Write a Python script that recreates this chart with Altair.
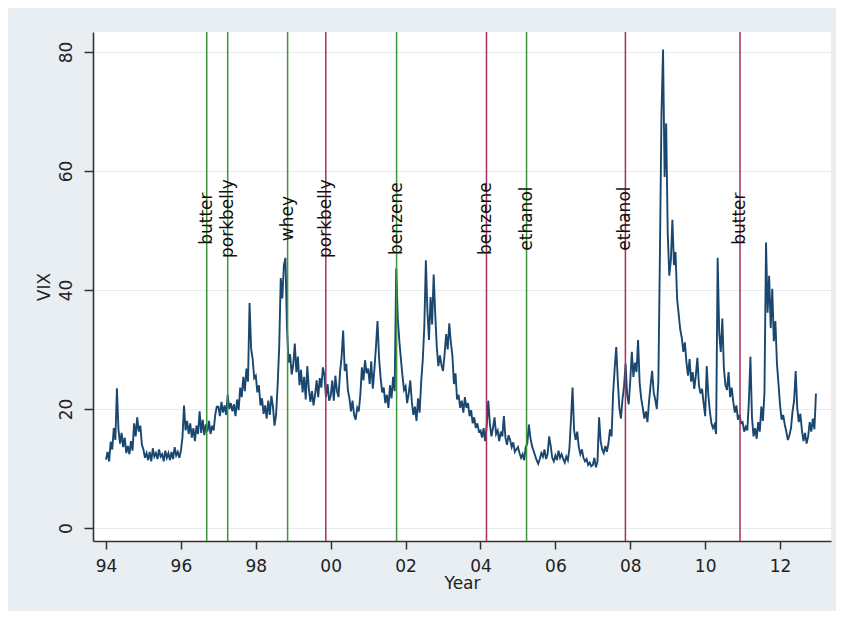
import altair as alt
import pandas as pd

# ---- VIX, read semi-monthly from the picture (24 values per year) ----
years = list(range(1994, 2013))
vix_1994 = [11.5, 12.8, 11.2, 14.5, 13.2, 16.8, 14.8, 23.5, 16.5, 14.2, 16.0, 13.6, 15.2, 12.6, 13.8, 12.4, 14.6, 13.0, 17.6, 15.4, 18.6, 16.2, 17.2, 14.0]
vix_1995 = [13.2, 11.8, 12.6, 11.4, 12.8, 11.2, 13.4, 12.0, 12.6, 11.6, 13.2, 12.0, 12.4, 11.2, 13.0, 11.8, 12.6, 11.4, 12.8, 11.6, 13.6, 12.2, 12.8, 11.8]
vix_1996 = [13.0, 15.2, 20.6, 16.4, 18.0, 15.8, 17.6, 15.2, 16.8, 14.6, 17.2, 15.8, 19.6, 16.0, 18.2, 15.6, 17.4, 16.2, 18.0, 15.8, 17.2, 16.4, 19.0, 20.4]
vix_1997 = [20.4, 18.8, 21.2, 19.4, 20.6, 19.0, 22.4, 20.0, 21.0, 19.6, 20.8, 18.8, 21.6, 19.8, 23.6, 22.0, 25.4, 23.0, 26.8, 24.6, 37.8, 30.2, 28.4, 25.2]
vix_1998 = [25.6, 22.8, 24.0, 20.6, 21.8, 19.2, 20.6, 18.4, 21.4, 19.0, 22.2, 20.4, 17.2, 19.0, 24.0, 30.4, 42.0, 38.6, 44.2, 45.4, 33.6, 27.8, 29.2, 25.8]
vix_1999 = [27.4, 31.0, 26.2, 28.8, 24.0, 26.6, 22.8, 25.4, 21.6, 27.2, 23.4, 21.2, 23.0, 20.6, 22.4, 24.8, 22.0, 25.2, 23.6, 27.0, 25.6, 22.0, 24.2, 21.4]
vix_2000 = [22.2, 24.8, 21.4, 25.6, 23.0, 22.0, 26.2, 28.8, 33.2, 26.4, 27.6, 23.2, 21.8, 19.6, 21.4, 19.0, 18.2, 20.2, 19.6, 22.4, 27.0, 24.8, 28.2, 26.0]
vix_2001 = [26.8, 24.2, 28.0, 23.4, 26.6, 30.4, 34.8, 28.6, 25.2, 22.8, 23.6, 21.0, 22.4, 20.2, 24.0, 21.8, 25.4, 23.0, 43.6, 35.2, 31.4, 28.4, 25.6, 23.2]
vix_2002 = [23.8, 21.0, 22.6, 24.8, 21.2, 19.0, 20.4, 18.0, 21.8, 19.4, 24.6, 28.2, 33.8, 45.0, 36.4, 31.6, 38.8, 34.2, 42.6, 36.0, 30.4, 27.2, 29.0, 27.4]
vix_2003 = [26.4, 29.2, 32.6, 30.0, 34.4, 31.2, 29.0, 24.2, 26.0, 21.6, 22.4, 20.2, 21.4, 19.4, 22.0, 20.2, 21.0, 18.8, 19.8, 17.6, 18.6, 16.8, 17.6, 16.2]
vix_2004 = [16.4, 15.2, 16.8, 14.6, 17.2, 21.4, 17.6, 15.4, 16.8, 18.6, 15.8, 16.4, 14.6, 16.2, 15.4, 18.8, 15.2, 14.0, 15.6, 14.8, 13.6, 14.4, 12.8, 13.2]
vix_2005 = [13.6, 12.6, 11.8, 12.4, 11.4, 13.6, 14.2, 17.4, 15.2, 13.8, 13.0, 12.2, 11.4, 10.8, 11.6, 12.6, 12.0, 13.2, 11.6, 12.4, 15.4, 13.8, 11.8, 11.2]
vix_2006 = [12.2, 11.4, 13.0, 11.8, 12.4, 11.6, 11.0, 12.0, 11.4, 13.4, 18.2, 23.6, 16.4, 14.8, 16.2, 13.6, 12.4, 13.2, 11.8, 11.2, 11.6, 10.6, 11.0, 10.4]
vix_2007 = [10.6, 11.8, 10.2, 11.2, 18.6, 14.6, 13.2, 12.6, 13.8, 12.8, 14.2, 16.6, 15.4, 22.6, 26.8, 30.4, 24.8, 20.2, 18.4, 21.6, 23.8, 27.6, 22.4, 20.8]
vix_2008 = [24.8, 29.6, 25.4, 27.8, 26.2, 31.6, 24.4, 21.8, 20.2, 18.4, 19.6, 17.8, 21.2, 24.0, 26.4, 22.8, 21.6, 20.0, 24.6, 46.0, 69.6, 80.4, 59.0, 68.0]
vix_2009 = [49.6, 42.4, 45.0, 51.8, 44.2, 46.4, 38.6, 36.0, 33.4, 32.0, 29.6, 31.2, 27.8, 25.6, 28.4, 24.6, 26.2, 23.4, 25.6, 28.6, 24.0, 22.6, 23.4, 21.0]
vix_2010 = [18.8, 27.2, 22.4, 19.6, 17.6, 16.8, 17.4, 15.8, 45.4, 32.8, 29.6, 35.2, 26.8, 24.0, 23.2, 26.2, 22.0, 23.6, 21.2, 19.4, 20.6, 18.2, 19.0, 17.6]
vix_2011 = [17.8, 16.2, 17.0, 16.4, 21.2, 28.8, 18.6, 15.4, 16.8, 15.0, 17.8, 16.2, 20.4, 18.0, 22.8, 48.0, 36.2, 42.4, 33.6, 40.2, 31.4, 34.8, 27.6, 24.2]
vix_2012 = [20.6, 18.2, 19.0, 17.4, 16.2, 14.8, 15.6, 16.8, 19.6, 21.4, 26.4, 20.2, 17.8, 19.2, 16.4, 14.6, 16.0, 14.2, 15.4, 17.8, 16.2, 18.4, 16.6, 22.6]
vix_by_year = [vix_1994, vix_1995, vix_1996, vix_1997, vix_1998, vix_1999, vix_2000,
               vix_2001, vix_2002, vix_2003, vix_2004, vix_2005, vix_2006, vix_2007,
               vix_2008, vix_2009, vix_2010, vix_2011, vix_2012]

# ---- event lines ----
event_names = ["butter", "porkbelly", "whey", "porkbelly", "benzene", "benzene", "ethanol", "ethanol", "butter"]
event_dates = [1996.69, 1997.25, 1998.85, 1999.87, 2001.76, 2004.16, 2005.23, 2007.87, 2010.93]
event_kinds = ["g", "g", "g", "r", "g", "r", "g", "r", "r"]

x_ticks = [1994, 1996, 1998, 2000, 2002, 2004, 2006, 2008, 2010, 2012]
y_ticks = [0, 20, 40, 60, 80]

dates, values = [], []
for yr, vals in zip(years, vix_by_year):
    for i, v in enumerate(vals):
        dates.append(yr + i / 24)
        values.append(v)
vix_df = pd.DataFrame({"date": dates, "vix": values})
ev_df = pd.DataFrame({"date": event_dates, "name": event_names, "kind": event_kinds})

FONT = "DejaVu Sans"
xscale = alt.Scale(domain=[1993.653, 2013.36], nice=False, zero=False)
yscale = alt.Scale(domain=[-2.18, 83.36], nice=False, zero=False)
cscale = alt.Scale(domain=["g", "r"], range=["#3C963C", "#A8305A"])

x_axis = alt.Axis(values=x_ticks, labelExpr="substring(format(datum.value, 'd'), 2)",
                  grid=False, tickSize=8, tickWidth=1.5, tickColor="#333333",
                  domainColor="#333333", domainWidth=1.6,
                  labelFont=FONT, labelFontSize=17, labelColor="#222222", labelPadding=9,
                  title="Year", titleFont=FONT, titleFontSize=17, titleFontWeight="normal",
                  titleColor="#222222", titlePadding=1)
y_axis = alt.Axis(values=y_ticks, grid=True, gridColor="#E6EDF1", gridWidth=1,
                  tickSize=9, tickWidth=1.5, tickColor="#333333",
                  domainColor="#333333", domainWidth=1.6,
                  labelAngle=270, labelAlign="center", labelBaseline="bottom",
                  labelFont=FONT, labelFontSize=17, labelColor="#222222", labelPadding=9,
                  title="VIX", titleFont=FONT, titleFontSize=17, titleFontWeight="normal",
                  titleColor="#222222", titlePadding=4)

line = alt.Chart(vix_df).mark_line(color="#1A476F", strokeWidth=1.9, clip=True).encode(
    x=alt.X("date:Q", scale=xscale, axis=x_axis),
    y=alt.Y("vix:Q", scale=yscale, axis=y_axis),
)

rules = alt.Chart(ev_df).mark_rule(strokeWidth=1.5).encode(
    x=alt.X("date:Q", scale=xscale),
    color=alt.Color("kind:N", scale=cscale, legend=None),
)

labels = alt.Chart(ev_df).mark_text(angle=270, align="center", baseline="middle",
                                     font=FONT, fontSize=17, color="#111111").encode(
    x=alt.X("date:Q", scale=xscale),
    y=alt.datum(52, scale=yscale),
    text="name:N",
)

chart = alt.layer(line, rules, labels).properties(
    width=738, height=509,
    background="#E8EEF2",
    autosize=alt.AutoSizeParams(type="none"),
    padding={"left": 85, "top": 24, "right": 5, "bottom": 70},
).configure_view(fill="white", strokeWidth=0)

chart.save("out.html", embed_options={"renderer": "svg", "actions": False})
